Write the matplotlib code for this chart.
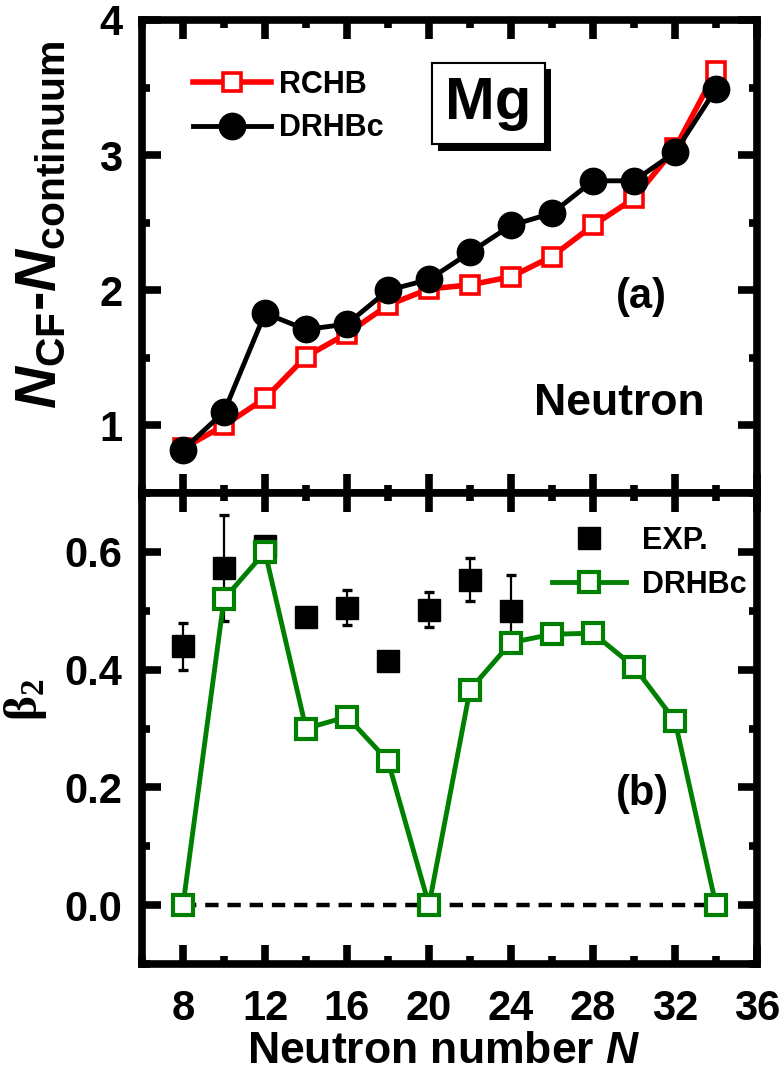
import numpy as np
import matplotlib
matplotlib.use('Agg')
import matplotlib.pyplot as plt
import matplotlib.patheffects as pe
from matplotlib.lines import Line2D

############################################
### Mg: N_CF - N_continuum and beta_2 ###
############################################

plt.rcParams['font.family'] = ['Liberation Sans', 'DejaVu Sans']
plt.rcParams['font.weight'] = 'bold'
plt.rcParams['mathtext.fontset'] = 'custom'
plt.rcParams['mathtext.rm'] = 'Liberation Sans:bold'
plt.rcParams['mathtext.it'] = 'Liberation Sans:bold:italic'
plt.rcParams['mathtext.bf'] = 'Liberation Sans:bold'
plt.rcParams['mathtext.sf'] = 'Liberation Serif'

# data
N = [8, 10, 12, 14, 16, 18, 20, 22, 24, 26, 28, 30, 32, 34]
ncf_rchb = [0.83, 1.00, 1.20, 1.51, 1.68, 1.89, 2.01, 2.04, 2.10, 2.25, 2.48, 2.68, 3.05, 3.62]
ncf_drhbc = [0.82, 1.10, 1.83, 1.71, 1.75, 2.00, 2.08, 2.28, 2.48, 2.57, 2.81, 2.81, 3.02, 3.49]
beta_drhbc = [0.0, 0.52, 0.60, 0.30, 0.32, 0.245, 0.0, 0.366, 0.446, 0.46, 0.462, 0.405, 0.313, 0.0]
N_exp = [8, 10, 12, 14, 16, 18, 20, 22, 24]
beta_exp = [0.44, 0.572, 0.61, 0.49, 0.505, 0.415, 0.502, 0.553, 0.50]
beta_err = [0.04, 0.09, 0.01, 0.01, 0.03, 0.01, 0.03, 0.037, 0.06]

fig = plt.figure(figsize=(7.82, 10.80), dpi=100)
ax1 = fig.add_axes([0.1816, 0.5435, 0.7864, 0.4380])
ax2 = fig.add_axes([0.1816, 0.1074, 0.7864, 0.4361])

### plot (a)
ax1.plot(N, ncf_rchb, '-', color='red', lw=4.0, marker='s', ms=13.5, mew=2.6,
         mfc='white', mec='red', zorder=3)
ax1.plot(N, ncf_drhbc, '-', color='black', lw=3.5, marker='o', ms=19, mfc='black',
         mec='black', zorder=4)
ax1.set_ylim(0.5, 4.0)
ax1.set_yticks([1, 2, 3, 4])
ax1.set_yticks(np.arange(0.5, 4.01, 0.5), minor=True)

h1 = [Line2D([], [], color='red', lw=4.0, marker='s', ms=13.5, mew=2.6, mfc='white', mec='red'),
      Line2D([], [], color='black', lw=3.5, marker='o', ms=19, mfc='black', mec='black')]
ax1.legend(h1, ['RCHB', 'DRHBc'], loc='upper left', bbox_to_anchor=(0.083, 0.895),
           frameon=False, fontsize=22, handlelength=2.55, handletextpad=0.25,
           labelspacing=0.45, borderpad=0, borderaxespad=0)

t = ax1.text(22.9, 3.38, 'Mg', fontsize=43, fontweight='bold', ha='center', va='center',
             bbox=dict(boxstyle='square,pad=0.22', fc='white', ec='black', lw=1.5))
t.get_bbox_patch().set_path_effects([pe.withSimplePatchShadow(offset=(4.5, -4.5),
                                     shadow_rgbFace='black', alpha=1.0), pe.Normal()])
ax1.text(30.35, 1.95, '(a)', fontsize=30, ha='center', va='center')
ax1.text(29.3, 1.16, 'Neutron', fontsize=32, ha='center', va='center')

### plot (b)
ax2.plot([N[0], N[-1]], [0, 0], color='black', lw=3.2, dashes=(3.0, 2.0), zorder=1)
ax2.errorbar(N_exp, beta_exp, yerr=beta_err, fmt='none', ecolor='black', elinewidth=1.6,
             capsize=3.8, capthick=2.4, zorder=2)
ax2.plot(N_exp, beta_exp, 's', color='black', ms=16.5, zorder=3)
ax2.plot(N, beta_drhbc, '-', color='#008000', lw=3.5, marker='s', ms=14, mew=3.0,
         mfc='white', mec='#008000', zorder=4)
ax2.set_ylim(-0.1, 0.7)
ax2.set_yticks([0.0, 0.2, 0.4, 0.6])
ax2.set_yticklabels(['0.0', '0.2', '0.4', '0.6'])
ax2.set_yticks(np.arange(-0.1, 0.71, 0.1), minor=True)

h2 = [Line2D([], [], ls='none', marker='s', color='black', ms=16.5),
      Line2D([], [], color='#008000', lw=3.5, marker='s', ms=14, mew=3.0, mfc='white', mec='#008000')]
ax2.legend(h2, ['EXP.', 'DRHBc'], loc='upper left', bbox_to_anchor=(0.667, 0.93),
           frameon=False, fontsize=22, handlelength=2.4, handletextpad=0.55,
           labelspacing=0.45, borderpad=0, borderaxespad=0)
ax2.text(30.4, 0.188, '(b)', fontsize=30, ha='center', va='center')

############################################
for ax in (ax1, ax2):
    ax.set_xlim(6, 36)
    ax.set_xticks(np.arange(8, 37, 4))
    ax.set_xticks(np.arange(6, 37, 2), minor=True)
    ax.tick_params(which='both', direction='in', top=True, right=True, width=5.5)
    ax.tick_params(which='major', length=14, labelsize=30, pad=14)
    ax.tick_params(which='minor', length=5.5)
    for s in ax.spines.values():
        s.set_linewidth(5.5)
ax1.tick_params(axis='x', labelbottom=False)
ax2.tick_params(axis='x', pad=18)

fig.text(0.052, 0.792, r'$N_{\mathrm{CF}}$-$N_{\mathrm{continuum}}$', fontsize=42,
         rotation=90, ha='center', va='center')
fig.text(0.032, 0.352, r'$\mathsf{\beta}_{\mathsf{2}}$', fontsize=34, fontweight='normal',
         rotation=90, ha='center', va='center')
fig.text(0.567, 0.026, r'Neutron number $N$', fontsize=32, ha='center', va='center')

plt.savefig('out.png', dpi=100)
plt.close()
